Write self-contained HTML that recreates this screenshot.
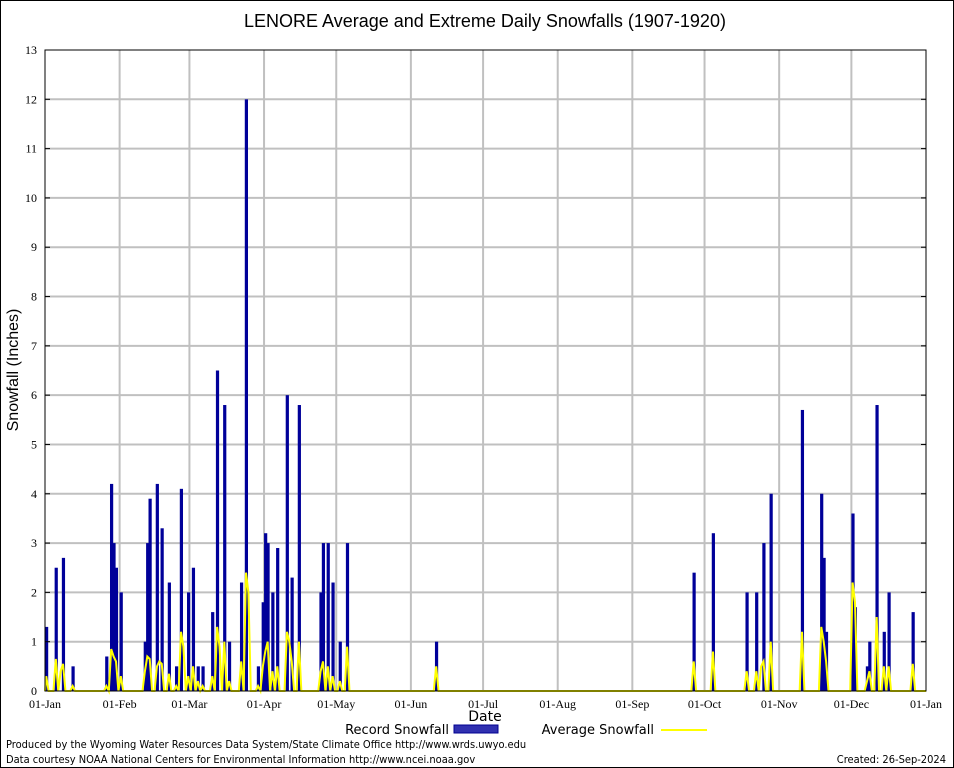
<!DOCTYPE html>
<html><head><meta charset="utf-8"><style>
body{margin:0;background:#fff}
svg{display:block}
</style></head><body>
<svg id="c" width="954" height="768" xmlns="http://www.w3.org/2000/svg">
<rect x="0.5" y="0.5" width="953" height="767" fill="#fff" stroke="#000"/>
<text x="485" y="27" text-anchor="middle" font-family="Liberation Sans, sans-serif" font-size="18">LENORE Average and Extreme Daily Snowfalls (1907-1920)</text>
<g id="grid"></g>
<g id="bars"></g>
<g id="avg"></g>
<rect x="45" y="50" width="881" height="641" fill="none" stroke="#000"/>
<g id="ticks"></g>
<text x="18" y="370" transform="rotate(-90 18 370)" text-anchor="middle" font-family="Liberation Sans, sans-serif" font-size="16">Snowfall (Inches)</text>
<text x="485" y="721" text-anchor="middle" font-family="DejaVu Sans, sans-serif" font-size="14">Date</text>
<g>
<text x="449" y="734" text-anchor="end" font-family="DejaVu Sans, sans-serif" font-size="13">Record Snowfall</text>
<rect x="454" y="725" width="44" height="8" fill="#3030b0" stroke="#000090"/>
<text x="654" y="734" text-anchor="end" font-family="DejaVu Sans, sans-serif" font-size="13">Average Snowfall</text>
<line x1="661" y1="730" x2="707" y2="730" stroke="#ffff00" stroke-width="2"/>
</g>
<text x="6" y="748" font-family="DejaVu Sans Condensed, DejaVu Sans, sans-serif" font-size="11">Produced by the Wyoming Water Resources Data System/State Climate Office http://www.wrds.uwyo.edu</text>
<text x="6" y="763" font-family="DejaVu Sans Condensed, DejaVu Sans, sans-serif" font-size="11">Data courtesy NOAA National Centers for Environmental Information http://www.ncei.noaa.gov</text>
<text x="946" y="763" text-anchor="end" font-family="DejaVu Sans Condensed, DejaVu Sans, sans-serif" font-size="11">Created: 26-Sep-2024</text>
</svg>
<script>
const monthLabels=["01-Jan","01-Feb","01-Mar","01-Apr","01-May","01-Jun","01-Jul","01-Aug","01-Sep","01-Oct","01-Nov","01-Dec","01-Jan"];
const monthDays=[0,31,60,91,121,152,182,213,244,274,305,335,366];
const yTicks=[0,1,2,3,4,5,6,7,8,9,10,11,12,13];
const recordDays=[0,4,7,11,25,27,28,29,31,41,42,43,46,48,51,54,56,59,61,63,65,69,71,74,76,81,83,88,90,91,92,94,96,100,102,105,114,115,117,119,122,125,162,269,277,291,295,298,301,314,322,323,324,335,336,341,342,345,348,350,360];
const recordVals=[1.3,2.5,2.7,0.5,0.7,4.2,3.0,2.5,2.0,1.0,3.0,3.9,4.2,3.3,2.2,0.5,4.1,2.0,2.5,0.5,0.5,1.6,6.5,5.8,1.0,2.2,12.0,0.5,1.8,3.2,3.0,2.0,2.9,6.0,2.3,5.8,2.0,3.0,3.0,2.2,1.0,3.0,1.0,2.4,3.2,2.0,2.0,3.0,4.0,5.7,4.0,2.7,1.2,3.6,1.7,0.5,1.0,5.8,1.2,2.0,1.6];
const avgDays=[0,4,6,7,11,25,27,28,29,31,41,42,43,46,47,48,51,54,56,57,59,61,63,65,69,71,72,74,76,81,83,84,88,90,91,92,94,96,100,101,102,105,114,115,117,119,122,125,162,269,277,291,295,297,298,301,314,322,323,324,335,336,341,342,345,348,350,360];
const avgVals=[0.3,0.65,0.4,0.55,0.1,0.1,0.85,0.7,0.6,0.3,0.4,0.7,0.65,0.5,0.6,0.55,0.35,0.1,1.2,0.9,0.3,0.5,0.2,0.1,0.3,1.3,0.9,1.0,0.2,0.6,2.4,2.0,0.1,0.5,0.8,1.0,0.4,0.5,1.2,1.0,0.6,1.0,0.4,0.6,0.5,0.3,0.2,0.9,0.5,0.6,0.8,0.4,0.4,0.5,0.6,1.0,1.2,1.3,1.0,0.6,2.2,1.8,0.2,0.4,1.5,0.5,0.5,0.55];
const NS="http://www.w3.org/2000/svg";
const X0=45,X1=926,Y0=691,Y1=50,YMAX=13,NDAYS=366;
const xs=d=>X0+d*(X1-X0)/NDAYS;
const ys=v=>Y0-v*(Y0-Y1)/YMAX;
function mk(tag,attrs,parent){const e=document.createElementNS(NS,tag);for(const k in attrs)e.setAttribute(k,attrs[k]);parent.appendChild(e);return e;}
const grid=document.getElementById('grid'),ticks=document.getElementById('ticks');
yTicks.forEach(v=>{
  if(v>0&&v<YMAX){const g=mk('line',{x1:X0,x2:X1,y1:ys(v),y2:ys(v),stroke:'#c0c0c0','stroke-width':2},grid);
  
  }
  const t=mk('text',{x:X0-8,y:ys(v)+4,'text-anchor':'end','font-family':'Liberation Serif, serif','font-size':12},ticks);
  t.textContent=v;
  
  
  mk('line',{x1:X0,x2:X0+5,y1:ys(v),y2:ys(v),stroke:'#000'},ticks);
  mk('line',{x1:X1-5,x2:X1,y1:ys(v),y2:ys(v),stroke:'#000'},ticks);
});
monthDays.forEach((d,i)=>{
  if(i>0&&i<12){const g=mk('line',{x1:xs(d),x2:xs(d),y1:Y1,y2:Y0,stroke:'#c0c0c0','stroke-width':2},grid);
  
  }
  const t=mk('text',{x:xs(d),y:708,'text-anchor':'middle','font-family':'Liberation Serif, serif','font-size':12},ticks);
  t.textContent=monthLabels[i];
  
  
});
const bars=document.getElementById('bars');
const bw=(X1-X0)/NDAYS;
recordDays.forEach((d,i)=>{
  const r=mk('rect',{x:xs(d),y:ys(recordVals[i]),width:bw+0.8,height:Y0-ys(recordVals[i]),fill:'#000099'},bars);
  
  
});
const daily=new Array(NDAYS).fill(0);
avgDays.forEach((d,i)=>{daily[d]=avgVals[i];});
let p='M'+X0+','+Y0;
for(let d=0;d<NDAYS;d++){p+='L'+(xs(d)+bw/2)+','+ys(daily[d]);}
p+='L'+X1+','+Y0;
const path=mk('path',{d:p,fill:'none',stroke:'#ffff00','stroke-width':2},document.getElementById('avg'));


</script>
</body></html>
